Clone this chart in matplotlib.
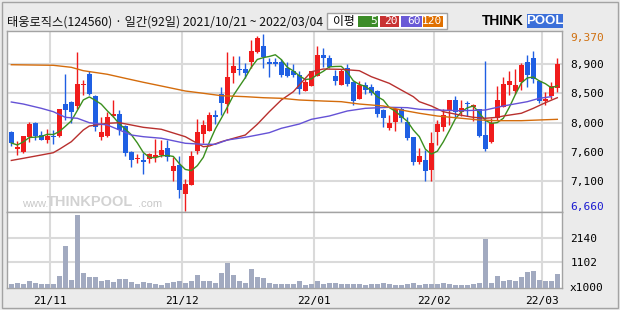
import matplotlib
matplotlib.use('Agg')
import matplotlib.pyplot as plt
from matplotlib.patches import Rectangle
import numpy as np
import pandas as pd

plt.rcParams['font.family'] = ['Noto Sans CJK KR', 'DejaVu Sans']

title = '태웅로직스(124560) · 일간(92일) 2021/10/21 ~ 2022/03/04'

# daily candles, 2021/10/21 .. 2022/03/04 (92 trading days)
opens = [7870, 7610, 7560, 7790, 8010, 7820, 7750, 7800, 7810, 8300,
         8330, 8270, 8590, 8760, 8420, 7790, 7810, 8110, 8150, 7960,
         7560, 7450, 7440, 7450, 7490, 7510, 7620, 7270, 7360, 6920,
         7060, 7580, 7840, 7890, 8130, 8450, 8300, 8780, 8830, 8830,
         8950, 9100, 9190, 8950, 8950, 8950, 8860, 8800, 8740, 8500,
         8580, 8730, 9050, 9000, 8730, 8590, 8860, 8630, 8380, 8590,
         8560, 8500, 8200, 7930, 8020, 8220, 8020, 7800, 7410, 7440,
         7280, 7870, 7950, 8210, 8360, 8180, 8320, 8260, 8220, 7820,
         7720, 8080, 8260, 8590, 8500, 8630, 8950, 9010, 8650, 8350,
         8420, 8550]
highs = [7880, 7730, 7810, 8020, 8020, 7880, 7920, 7900, 8230, 8760,
         8340, 9100, 8670, 8800, 8430, 8100, 8170, 8360, 8200, 7970,
         7570, 7530, 7540, 7540, 7760, 7750, 7750, 7490, 7500, 7140,
         7570, 8070, 8050, 8180, 8210, 8560, 9100, 9040, 9030, 8930,
         9280, 9340, 9370, 9000, 9000, 8990, 8950, 8910, 8800, 8680,
         8800, 9190, 9160, 9050, 8820, 8830, 8910, 8660, 8660, 8640,
         8610, 8510, 8230, 8130, 8250, 8260, 8100, 7800, 7630, 7590,
         7870, 8060, 8230, 8360, 8420, 8360, 8340, 8300, 8230, 8960,
         8080, 8570, 8720, 8810, 8840, 8930, 9050, 9110, 8670, 8490,
         8640, 9000]
lows = [7660, 7510, 7550, 7720, 7750, 7750, 7700, 7680, 7800, 8060,
        8010, 8220, 8440, 8430, 7890, 7750, 7800, 8100, 7820, 7500,
        7330, 7390, 7220, 7400, 7410, 7490, 7430, 7120, 6850, 6660,
        7050, 7530, 7700, 7890, 7990, 8130, 8160, 8620, 8750, 8700,
        8850, 9090, 8860, 8710, 8880, 8720, 8710, 8720, 8460, 8500,
        8580, 8730, 8870, 8860, 8590, 8590, 8570, 8290, 8380, 8450,
        8440, 8100, 7940, 7900, 7880, 8030, 7750, 7360, 7380, 7120,
        7120, 7670, 7890, 7980, 8100, 8110, 8110, 8040, 7800, 7580,
        7700, 8050, 8250, 8440, 8460, 8510, 8560, 8620, 8320, 8280,
        8370, 8490]
closes = [7700, 7640, 7810, 7990, 7810, 7750, 7810, 7790, 8220, 8210,
          8170, 8610, 8600, 8450, 7950, 7870, 8100, 8150, 7900, 7550,
          7440, 7470, 7410, 7530, 7520, 7590, 7490, 7340, 6980, 7070,
          7500, 7870, 7980, 8130, 8100, 8320, 8720, 8880, 8820, 8780,
          9120, 9320, 9020, 8910, 8910, 8750, 8730, 8740, 8530, 8630,
          8800, 9050, 9000, 8870, 8660, 8810, 8600, 8340, 8590, 8510,
          8470, 8150, 8080, 8010, 8230, 8080, 7770, 7410, 7500, 7270,
          7700, 7990, 8130, 8360, 8170, 8240, 8300, 8280, 7810, 7610,
          8010, 8360, 8610, 8650, 8590, 8900, 8750, 8680, 8350, 8380,
          8580, 8910]
# volume, x1000 shares
volumes = [170, 200, 155, 280, 200, 170, 155, 155, 495, 1805,
           325, 3115, 620, 450, 450, 310, 325, 240, 395, 365,
           240, 170, 240, 200, 170, 127, 225, 255, 280, 200,
           280, 535, 280, 280, 200, 620, 1045, 535, 280, 200,
           790, 450, 410, 200, 155, 155, 155, 155, 280, 113,
           170, 280, 170, 200, 200, 170, 170, 170, 170, 140,
           170, 170, 200, 170, 140, 140, 170, 200, 140, 170,
           170, 170, 200, 170, 127, 127, 127, 170, 200, 2100,
           200, 495, 280, 325, 280, 450, 690, 730, 325, 280,
           280, 605]

# moving averages (day index, price)
ma20_idx = [0, 2, 5, 7, 8, 10, 12, 13, 16, 18, 20, 22, 25, 29, 32, 33, 35, 39, 41, 43, 45,
            47, 49, 50, 52, 55, 58, 60, 63, 65, 67, 68, 70, 72, 75, 77, 79, 81, 82, 85, 87, 89, 91]
ma20_val = [7432, 7465, 7516, 7551, 7604, 7720, 7900, 7961, 8003, 8012, 7977, 7941, 7911, 7797,
            7643, 7654, 7720, 7823, 7988, 8181, 8361, 8488, 8694, 8795, 8837, 8832, 8811, 8719,
            8617, 8514, 8412, 8335, 8269, 8181, 8126, 8095, 8080, 8095, 8115, 8157, 8233, 8319, 8396]
ma60_idx = [0, 2, 5, 7, 9, 11, 13, 16, 18, 20, 22, 25, 29, 32, 34, 36, 39, 41, 43, 45, 48,
            50, 53, 56, 59, 63, 66, 68, 71, 75, 79, 82, 86, 88, 90]
ma60_val = [8330, 8299, 8233, 8181, 8095, 8080, 8012, 7977, 7900, 7823, 7797, 7773, 7696, 7680,
            7680, 7746, 7788, 7823, 7859, 7926, 7992, 8064, 8115, 8192, 8233, 8249, 8243, 8218,
            8207, 8196, 8207, 8269, 8335, 8387, 8412]
ma120_idx = [0, 7, 10, 12, 16, 19, 22, 25, 29, 32, 35, 39, 42, 45, 48, 52, 55, 58, 62, 65, 68,
             71, 75, 78, 81, 85, 88, 91]
ma120_val = [8903, 8894, 8863, 8811, 8756, 8694, 8633, 8576, 8499, 8464, 8427, 8412, 8396, 8387,
             8361, 8345, 8335, 8299, 8269, 8207, 8157, 8115, 8080, 8054, 8043, 8043, 8054, 8064]

month_pos = [6.5, 28.5, 50.5, 70.5, 88.5]
month_labels = ['21/11', '21/12', '22/01', '22/02', '22/03']
price_max, price_min = 9370, 6660
price_grid_labels = ['7,100', '7,600', '8,000', '8,500', '8,900']
vol_ticks = [1102, 2140]
vol_tick_labels = ['1102', '2140']

RED, BLUE = '#f01c1c', '#1f5fe3'
GRID, FRAME, BG = '#dadada', '#a3a3a3', '#ebebeb'
MONO = 'DejaVu Sans Mono'

W, H = 620, 310
fig = plt.figure(figsize=(6.2, 3.1), dpi=100)
fig.patch.set_facecolor(BG)


def rect(x0, y0, x1, y1):
    return [x0 / W, 1 - y1 / H, (x1 - x0) / W, (y1 - y0) / H]


ax = fig.add_axes(rect(7, 31, 562, 212))
axv = fig.add_axes(rect(7, 212, 562, 288))

x = np.arange(len(opens))
o, h, l, c = (np.array(a, dtype=float) for a in (opens, highs, lows, closes))
cols = np.where(c >= o, RED, BLUE)

# price panel
ax.vlines(x, l, h, colors=cols, lw=1, zorder=3)
ax.bar(x, np.maximum(np.abs(c - o), 16), bottom=np.minimum(o, c), width=0.75,
       color=cols, lw=0, zorder=4)
ma5 = pd.Series(closes).rolling(5, min_periods=1).mean()
ax.plot(x, ma5, color='#3b8f1e', lw=1, zorder=5)
ax.plot(ma20_idx, ma20_val, color='#b8302e', lw=1, zorder=5)
ax.plot(ma60_idx, ma60_val, color='#6552d6', lw=1, zorder=5)
ax.plot(ma120_idx, ma120_val, color='#d46c0c', lw=1, zorder=5)

ax.set_xlim(-0.72, 91.78)
ax.set_ylim(6640, 9421)
ax.set_xticks(month_pos)
ax.set_yticks(np.linspace(price_min, price_max, 7)[1:-1])
ax.set_yticklabels(price_grid_labels)
ax.grid(True, color=GRID, lw=1.5, zorder=0)
ax.tick_params(axis='x', length=0, labelbottom=False)
ax.tick_params(axis='y', length=0, left=False, labelleft=False, right=False, labelright=True,
               pad=6, labelsize=8, labelfontfamily=MONO)
yt = ax.get_yaxis_transform()
ax.annotate(f'{price_max:,}', xy=(1.014, price_max), xycoords=yt, xytext=(0, -4),
            textcoords='offset pixels', va='center', ha='left', fontsize=8,
            family=MONO, color='#d0700f', annotation_clip=False)
ax.annotate(f'{price_min:,}', xy=(1.014, price_min), xycoords=yt, xytext=(0, 4),
            textcoords='offset pixels', va='center', ha='left', fontsize=8,
            family=MONO, color='#1c1cd0', annotation_clip=False)

# volume panel
axv.bar(x, volumes, width=0.78, color='#a2aac0', lw=0, zorder=3)
axv.set_xlim(-0.72, 91.78)
axv.set_ylim(0, 3238)
axv.set_xticks(month_pos)
axv.set_xticklabels(month_labels)
axv.set_yticks(vol_ticks)
axv.set_yticklabels(vol_tick_labels)
axv.grid(True, color=GRID, lw=1.5, zorder=0)
axv.tick_params(axis='x', length=0, pad=6, labelsize=8, labelfontfamily=MONO)
axv.tick_params(axis='y', length=0, left=False, labelleft=False, labelright=True,
                pad=6, labelsize=8, labelfontfamily=MONO)
axv.text(1.014, 0, 'x1000', transform=axv.get_yaxis_transform(), va='center', ha='left',
         fontsize=8, family=MONO)

for a in (ax, axv):
    a.set_facecolor('white')
    for s in a.spines.values():
        s.set_color(FRAME)
        s.set_linewidth(1)

# decorations in pixel coordinates
ov = fig.add_axes([0, 0, 1, 1])
ov.set_xlim(0, W)
ov.set_ylim(H, 0)
ov.axis('off')
ov.patch.set_alpha(0)
ov.add_patch(Rectangle((1.5, 1.5), 616, 306, fill=False, ec=FRAME, lw=1))

ov.text(7, 22, title, fontsize=8.8, va='center', ha='left', color='#111111')

ov.add_patch(Rectangle((327, 13), 120, 16, fc='white', ec=FRAME, lw=1))
ov.text(333, 21, '이평', fontsize=8.5, va='center', ha='left')
legend_items = [('5', '#3c8c28', 358, 378), ('20', '#c83232', 380, 399),
                ('60', '#6a5ad6', 401, 422), ('120', '#e07000', 423, 443)]
for lab, col, x0, x1 in legend_items:
    ov.add_patch(Rectangle((x0, 15.7), x1 - x0, 11.6, fc=col, ec='none'))
    ov.text(x1 - 1, 21.5, lab, fontsize=8, family=MONO, color='white', va='center', ha='right')

ov.text(482, 21, 'THINK', fontsize=10, weight='bold', family='Liberation Sans',
        va='center', ha='left', color='black')
ov.add_patch(Rectangle((527, 14), 36, 14, fc='#3b6fd9', ec='none'))
ov.text(545, 21, 'POOL', fontsize=9.5, weight='bold', family='Liberation Sans',
        va='center', ha='center', color='white')

ov.text(22, 204, 'www.', fontsize=8, family='Liberation Sans', va='center', ha='left', color='#c8c8c8')
ov.text(47, 202, 'THINKPOOL', fontsize=10.5, weight='bold', family='Liberation Sans',
        va='center', ha='left', color='#d2d2d2')
ov.text(138, 204, '.com', fontsize=8, family='Liberation Sans', va='center', ha='left', color='#c8c8c8')

fig.savefig('out.png', dpi=100, facecolor=BG)
